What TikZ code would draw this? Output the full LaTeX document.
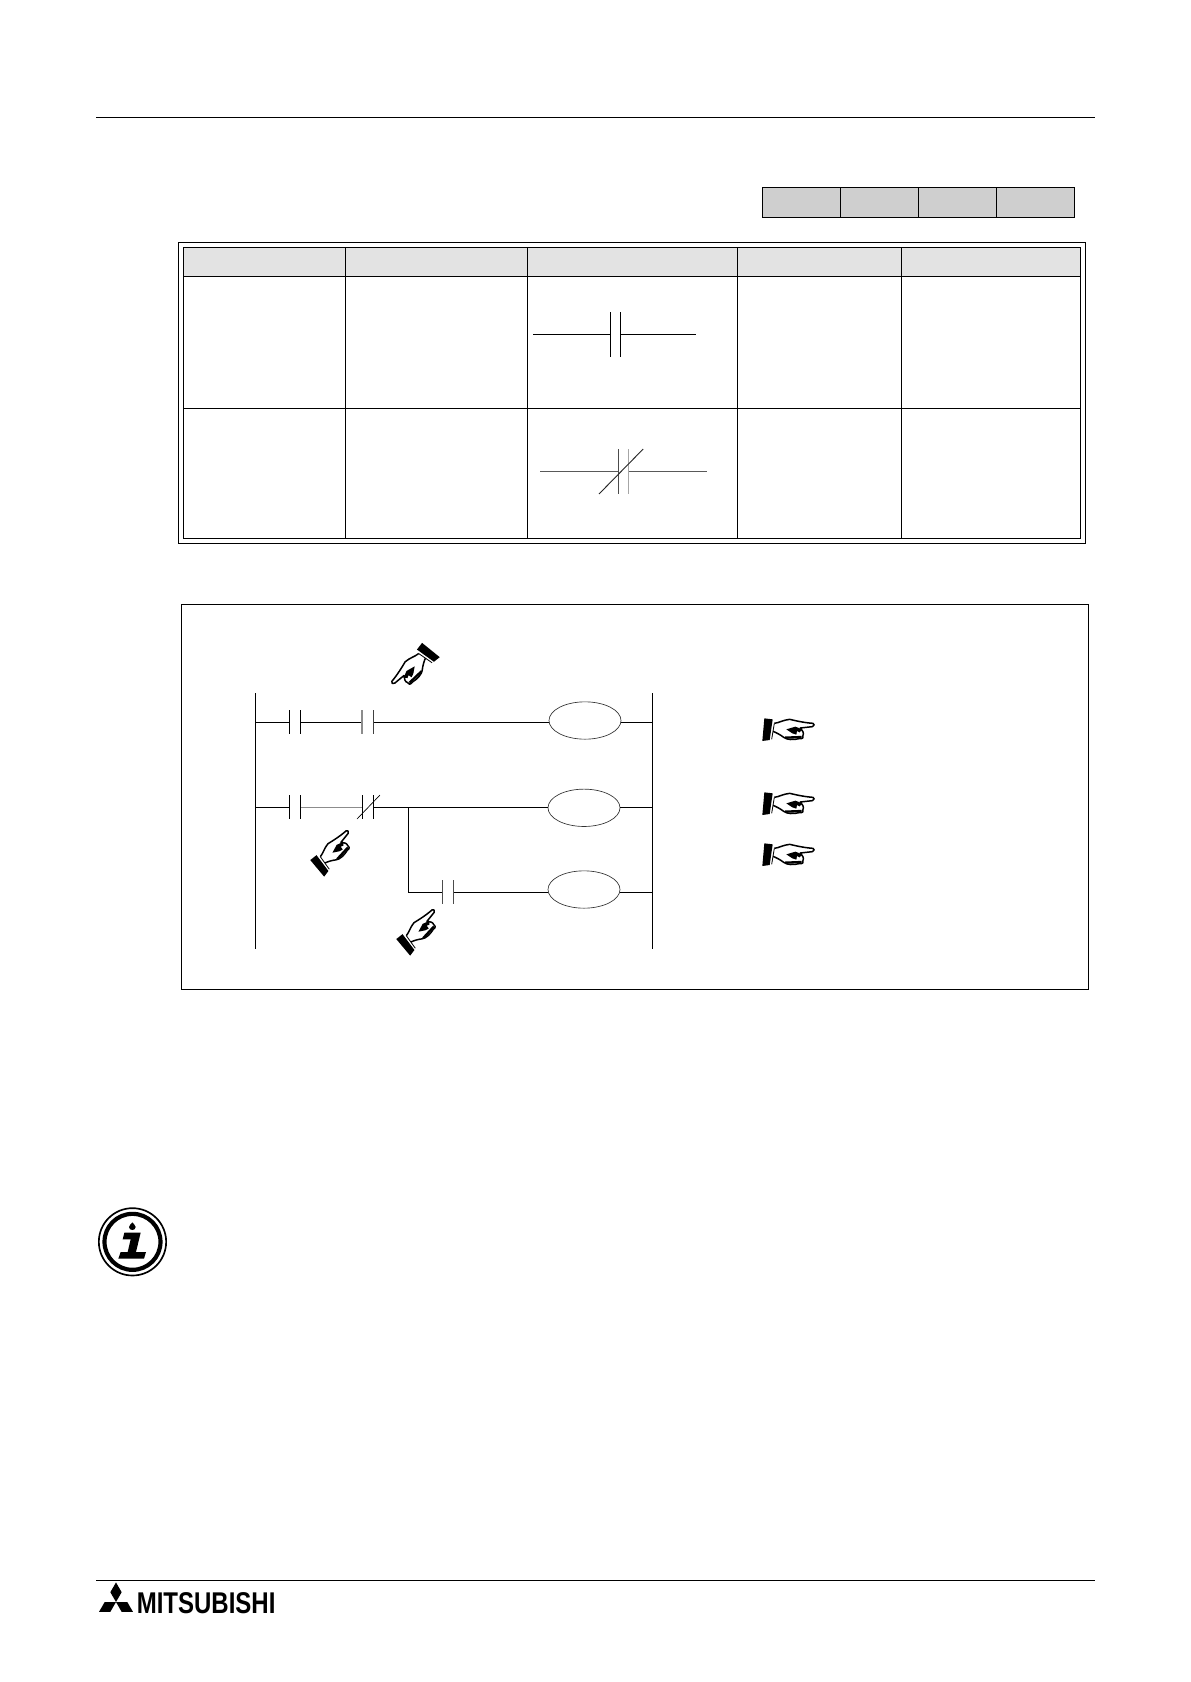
\documentclass[tikz,border=0pt]{standalone}
\usepackage{fontspec}
\setmainfont{Liberation Sans}
\usetikzlibrary{shapes.geometric}
\tikzset{
  rule/.style={line width=0.6pt,black},
  tline/.style={line width=0.75pt},
  thinl/.style={line width=0.5pt,black},
  ladder/.style={line width=0.62pt,black},
  bar/.style={line width=0.55pt,black},
  graybar/.style={line width=0.9pt,black!45},
  coil/.style={ellipse,draw=black!80,line width=0.4pt,minimum width=43.2pt,minimum height=22.4pt,inner sep=0pt},
  hand/.pic={
    \begin{scope}[scale=1/3,shift={(-143,-120)}]
      \fill[black] (72,85) -- (97,88) -- (88,150) -- (66,153) -- cycle;
      \filldraw[fill=white,draw=black,line width=0.9pt,line join=round]
        (102,100) .. controls (118,98) and (128,90) .. (148,88)
        .. controls (165,92) and (190,98) .. (218,100)
        .. controls (223,102) and (223,108) .. (216,110)
        -- (180,114) .. controls (186,120) and (192,130) .. (188,136)
        .. controls (192,142) and (186,148) .. (176,146)
        .. controls (160,150) and (140,150) .. (130,142)
        .. controls (120,134) and (108,128) .. (98,124);
      \draw[black,line width=0.5pt] (102,100) -- (94,148);
      \fill[black] (138,118) -- (165,110) -- (186,118) -- (178,127) -- (170,123) -- (168,134) -- (156,130) -- cycle;
      \draw[black,line width=1.4pt] (134,143) -- (184,141);
    \end{scope}
  }
}
\begin{document}
\begin{tikzpicture}[x=0.6pt,y=-0.6pt]
\useasboundingbox (0,0) rectangle (1190,1682);
% page rules
\coordinate (rta) at (96,117.5); \coordinate (rtb) at (1095,117.5);
\coordinate (rba) at (96,1580); \coordinate (rbb) at (1095,1580);
\draw[rule] (rta) -- (rtb);
\draw[rule] (rba) -- (rbb);
% gray boxes
\filldraw[tline,fill=black!19,draw=black] (762.3,187.3) rectangle (1074.3,217.3);
\draw[tline] (840.3,187.3) -- (840.3,217.3) (918.3,187.3) -- (918.3,217.3) (996.3,187.3) -- (996.3,217.3);
% table
\draw[tline] (178.3,242.3) rectangle (1085.7,543.8);
\fill[black!11] (183.3,247.5) rectangle (1080.3,276.3);
\draw[tline] (183.3,247.5) rectangle (1080.3,538.6);
\draw[tline] (183.3,276.3) -- (1080.3,276.3) (183.3,408.3) -- (1080.3,408.3);
\draw[tline] (345.3,247.5) -- (345.3,538.6);
\draw[line width=0.6pt] (737,247.5) -- (737,538.6);
\draw[line width=0.5pt] (527.4,247.5) -- (527.4,538.6) (901.5,247.5) -- (901.5,538.6);
% table contact symbols
\draw[tline] (533,334.3) -- (609.8,334.3) (620.5,334.3) -- (696,334.3);
\draw[bar] (610,312) -- (610,357) (620.7,312) -- (620.7,357);
\draw[line width=0.6pt,black!65] (540,471.3) -- (619,471.3) (628.5,471.3) -- (707,471.3);
\draw[line width=0.6pt,black!70] (618.8,449) -- (618.8,494);
\draw[line width=0.6pt,black!35] (628.6,449) -- (628.6,494);
\draw[line width=0.55pt,black!85] (599,494) -- (643.2,449);
% ladder box
\draw[thinl,line width=0.6pt] (181.3,604.3) rectangle (1088.5,989.3);
% rails
\coordinate (la) at (255.3,693); \coordinate (lb) at (255.3,949);
\coordinate (ra) at (652.3,693); \coordinate (rb) at (652.3,949);
\draw[ladder] (la) -- (lb);
\draw[ladder] (ra) -- (rb);
% coils
\node[coil] (c1) at (585,720.5) {};
\node[coil] (c2) at (584,807.8) {};
\node[coil] (c3) at (584,889.5) {};
% rung 1
\coordinate (l1) at (255.3,722.3); \coordinate (k1a) at (289.3,722.3); \coordinate (k1b) at (300.3,722.3);
\coordinate (k2a) at (362.3,722.3); \coordinate (k2b) at (373.3,722.3); \coordinate (r1) at (652.3,722.3);
\draw[ladder] (l1) -- (k1a) (k1b) -- (k2a) (k2b) -- (c1.west |- k2b) (c1.east |- r1) -- (r1);
\draw[bar] (289.3,710) -- (289.3,734) (300.3,710) -- (300.3,734);
\draw[graybar] (362.2,710) -- (362.2,734);
\draw[line width=0.55pt,black!75] (373.3,710) -- (373.3,734);
% rung 2
\coordinate (l2) at (255.3,807.3); \coordinate (k3a) at (289.3,807.3); \coordinate (k3b) at (300.3,807.3);
\coordinate (k4a) at (362.7,807.3); \coordinate (k4b) at (373.3,807.3); \coordinate (jn) at (408.7,807.3); \coordinate (r2) at (652.3,807.3);
\draw[ladder] (l2) -- (k3a) (k4b) -- (jn) -- (c2.west |- jn) (c2.east |- r2) -- (r2);
\draw[graybar] (k3b) -- (k4a);
\draw[bar] (289.3,795) -- (289.3,819) (300.3,795) -- (300.3,819) (362.7,795) -- (362.7,819) (373.3,795) -- (373.3,819);
\draw[line width=0.4pt] (357,819) -- (380,795);
% rung 3
\coordinate (k5a) at (442.8,892.3); \coordinate (k5b) at (453.8,892.3); \coordinate (r3) at (652.3,892.3); \coordinate (jb) at (408.7,892.3);
\draw[ladder] (jn) -- (jb) -- (k5a) (k5b) -- (c3.west |- k5b) (c3.east |- r3) -- (r3);
\draw[line width=0.55pt,black!70] (442.8,880) -- (442.8,904) (453.8,880) -- (453.8,904);
% hands
\path (788,730) pic {hand};
\path (788,804) pic {hand};
\path (788,855) pic {hand};
\path (414,668) pic[rotate=-134,yscale=-1] {hand};
\path (334,852) pic[rotate=45,scale=0.95] {hand};
\path (420,931) pic[rotate=45,scale=0.95] {hand};
% information icon
\begin{scope}[shift={(80,1190)},scale=1/3]
  \draw[line width=1pt] (157.5,155.5) circle (101);
  \draw[line width=2.5pt] (157.5,155.5) circle (84);
  \fill[black] (133,128) -- (182,128) -- (168,186) -- (198,186) -- (192,206) -- (115,206) -- (122,186) -- (143,186) -- (152,148) -- (128,148) -- cycle;
  \fill[black] (157,97) .. controls (161,103) and (167,106) .. (167,111) .. controls (167,123) and (147,123) .. (147,111) .. controls (147,106) and (153,103) .. (157,97) -- cycle;
\end{scope}
% logo
\coordinate (lg) at (116,1602);
\fill[black] (lg) -- ++(5.65,-9.8) -- ++(-5.65,-9.8) -- ++(-5.65,9.8) -- cycle;
\fill[black] (lg) -- ++(-11.3,0) -- ++(-5.65,9.8) -- ++(11.3,0) -- cycle;
\fill[black] (lg) -- ++(11.3,0) -- ++(5.65,9.8) -- ++(-11.3,0) -- cycle;
\node[anchor=base west,inner sep=0pt,xscale=0.8,font=\fontsize{18pt}{20pt}\selectfont\bfseries] (logo) at (136.5,1613) {MITSUBISHI};
\end{tikzpicture}
\end{document}
